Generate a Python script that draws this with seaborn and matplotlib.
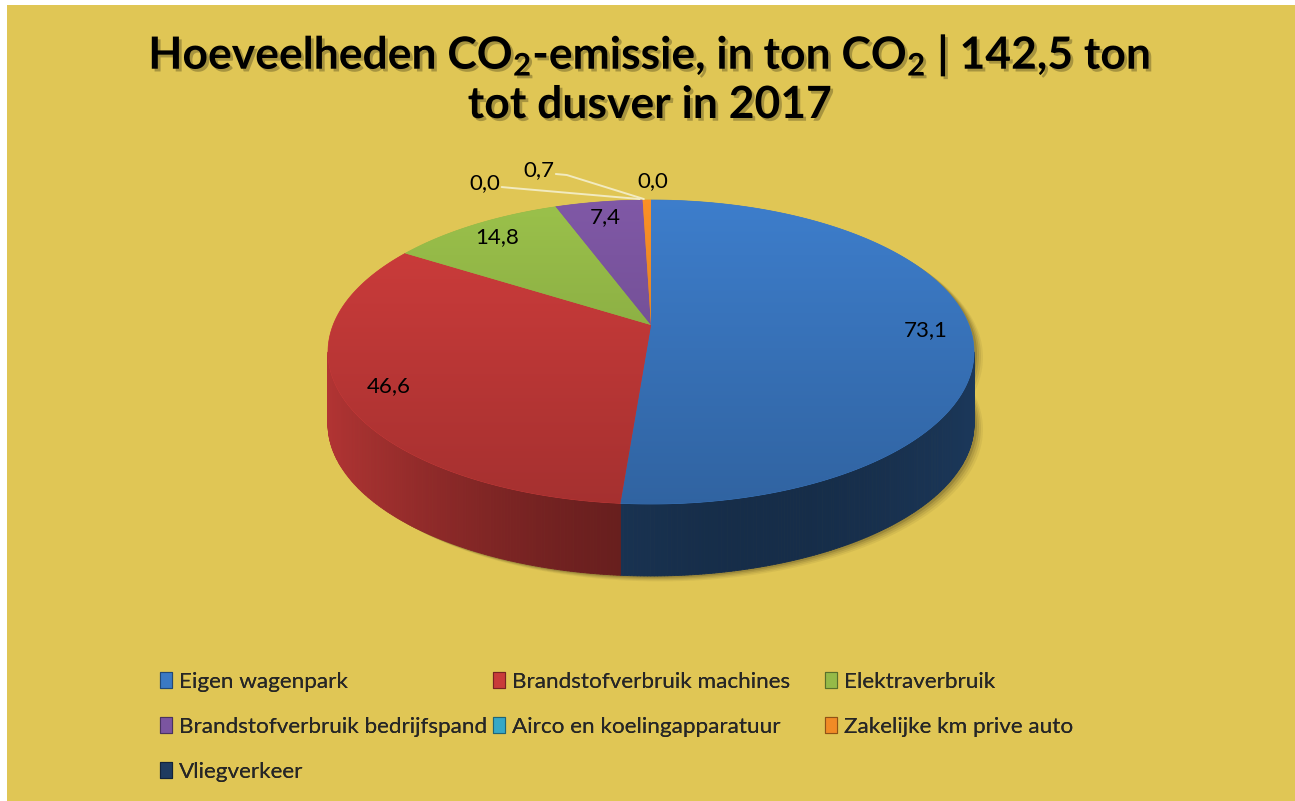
import numpy as np
import matplotlib
matplotlib.use("Agg")
import matplotlib.pyplot as plt
import seaborn as sns
from matplotlib.patches import Polygon, Rectangle, Patch
from matplotlib.collections import PolyCollection
from matplotlib import patheffects as pe
from matplotlib.colors import to_rgb

# ---------------- data ----------------
categories = ["Eigen wagenpark", "Brandstofverbruik machines", "Elektraverbruik",
              "Brandstofverbruik bedrijfspand", "Airco en koelingapparatuur",
              "Zakelijke km prive auto", "Vliegverkeer"]
values = [73.1, 46.6, 14.8, 7.4, 0.0, 0.7, 0.0]
value_labels = ["73,1", "46,6", "14,8", "7,4", "0,0", "0,7", "0,0"]
colors = ["#3B79C4", "#C93B3A", "#95BA48", "#7B55A0", "#36A8C6", "#F18B25", "#1F3B60"]
title_line1 = "Hoeveelheden CO$_2$-emissie, in ton CO$_2$ | 142,5 ton"
title_line2 = "tot dusver in 2017"

# ---------------- style ----------------
sns.set_theme(style="white")
plt.rcParams["font.family"] = ["Lato", "DejaVu Sans"]
plt.rcParams["mathtext.fontset"] = "custom"
plt.rcParams["mathtext.rm"] = "Lato:bold"
plt.rcParams["mathtext.it"] = "Lato:bold"
plt.rcParams["mathtext.bf"] = "Lato:bold"

W, H = 1295, 801
BG = "#E0C655"
fig = plt.figure(figsize=(W / 100, H / 100), dpi=100)
fig.patch.set_facecolor("white")
ax = fig.add_axes([0, 0, 1, 1])
ax.axis("off")
ax.add_patch(Rectangle((7, 5), W - 7, H - 5, facecolor=BG, edgecolor="none", zorder=0))

# pie geometry (perspective projection of a disc)
CX, CY = 651, 352      # centre of the projected ellipse
A_, B_ = 323, 152      # semi axes
C_OFF = -27            # apex offset of the pie centre
DEPTH = 72
K = C_OFF / B_
A_EFF = A_ * np.sqrt(1 - (C_OFF / B_) ** 2)


def proj(phi_deg, r=1.0):
    p = np.radians(phi_deg)
    u = r * np.sin(p)
    v = -r * np.cos(p)
    w = 1 + K * v
    return CX + A_EFF * u / w, CY + (B_ * v + C_OFF) / w


def shade(c, f):
    return tuple(np.clip(np.array(to_rgb(c)) * f, 0, 1))


total = sum(values)
cum = np.concatenate([[0], np.cumsum(values)]) / total * 360.0

# ---- soft shadow ----
phis = np.linspace(0, 360, 361)
sx, sy = proj(phis)
for off, al in [(9, 0.05), (7, 0.07), (5, 0.09), (3, 0.12)]:
    ax.add_patch(Polygon(np.column_stack([sx + off, sy + DEPTH + off * 0.6]), closed=True,
                         facecolor="black", alpha=al, edgecolor="none", zorder=1))
    ax.add_patch(Polygon(np.column_stack([sx + off, sy + off * 0.6]), closed=True,
                         facecolor="black", alpha=al, edgecolor="none", zorder=1))

# ---- side walls ----
thr = -C_OFF / B_
phi_lo = np.degrees(np.arccos(-thr))
phi_hi = 360 - phi_lo


def side_factor(nx):
    return 0.40 - 0.16 * nx + 0.22 * nx ** 2


polys, fcs = [], []
for i, val in enumerate(values):
    lo, hi = max(cum[i], phi_lo), min(cum[i + 1], phi_hi)
    if hi <= lo:
        continue
    n = max(2, int((hi - lo) / 0.5))
    edges = np.linspace(lo, hi, n + 1)
    for a0, a1 in zip(edges[:-1], edges[1:]):
        x0, y0 = proj(a0)
        x1, y1 = proj(a1)
        polys.append([(x0, y0), (x1, y1), (x1, y1 + DEPTH), (x0, y0 + DEPTH)])
        nx = ((x0 + x1) / 2 - CX) / A_
        f = side_factor(nx)
        if i == 1:
            f += 0.1
        fcs.append(shade(colors[i], f))
ax.add_collection(PolyCollection(polys, facecolors=fcs, edgecolors=fcs, linewidths=0.6, zorder=2))

# ---- top face wedges with vertical gradient ----
apex = proj(0, 0)
grad = np.linspace(0, 1, 256)[:, None]
for i, val in enumerate(values):
    if val <= 0:
        continue
    ph = np.linspace(cum[i], cum[i + 1], max(3, int(cum[i + 1] - cum[i]) * 2))
    px, py = proj(ph)
    pts = np.vstack([[apex[0], apex[1]], np.column_stack([px, py])])
    poly = Polygon(pts, closed=True, facecolor=colors[i], edgecolor=colors[i], linewidth=0.5, zorder=3)
    ax.add_patch(poly)
    base = np.array(to_rgb(colors[i]))
    img = np.clip(base[None, None, :] * (1.06 - 0.24 * grad)[:, :, None], 0, 1)
    im = ax.imshow(img, extent=(CX - A_ - 5, CX + A_ + 5, CY + B_ + 5, CY - B_ - 30),
                   aspect="auto", zorder=4, interpolation="bilinear")
    im.set_clip_path(poly)

# ---- data labels ----
small_offsets = {4: (-158, -17), 5: (-108, -30), 6: (2, -19)}
for i, val in enumerate(values):
    mid = (cum[i] + cum[i + 1]) / 2
    if i in small_offsets:
        axp, ayp = proj(mid)
        dx, dy = small_offsets[i]
        tx, ty = axp + dx, ayp + dy
        ax.text(tx, ty, value_labels[i], fontsize=16, ha="center", va="center", color="black", zorder=6)
        if i != 6:
            ax.plot([tx + 17, tx + 28, axp - 3], [ty + 4, ty + 5, ayp - 1], color="#F2EBC0",
                    lw=1.4, zorder=5, solid_capstyle="round")
    else:
        lx, ly = proj(mid, 0.86)
        ax.text(lx, ly, value_labels[i], fontsize=16, ha="center", va="center", color="black", zorder=6)

# ---- title ----
for txt, yy in [(title_line1, 55), (title_line2, 105)]:
    ax.text(650, yy, txt, fontsize=32, fontweight="bold", ha="center", va="center",
            color="black", zorder=6,
            path_effects=[pe.SimplePatchShadow(offset=(2, -2), shadow_rgbFace="black", alpha=0.25),
                          pe.Normal()])

# ---- legend (row-major, three columns) ----
handles = [Patch(facecolor=c, edgecolor=shade(c, 0.6), linewidth=0.8) for c in colors]
col_x = [160, 493, 825]
col_items = [[0, 3, 6], [1, 4], [2, 5]]
for cx_, items in zip(col_x, col_items):
    leg = fig.legend([handles[j] for j in items], [categories[j] for j in items],
                     loc="upper left", bbox_to_anchor=(cx_ / W, 1 - 672 / H),
                     frameon=False, fontsize=16.2, handlelength=0.55, handleheight=0.7,
                     handletextpad=0.28, labelspacing=1.1, borderpad=0, borderaxespad=0)
    fig.add_artist(leg)

ax.set_xlim(0, W)
ax.set_ylim(H, 0)
fig.savefig("out.png", dpi=100, facecolor=fig.get_facecolor())
